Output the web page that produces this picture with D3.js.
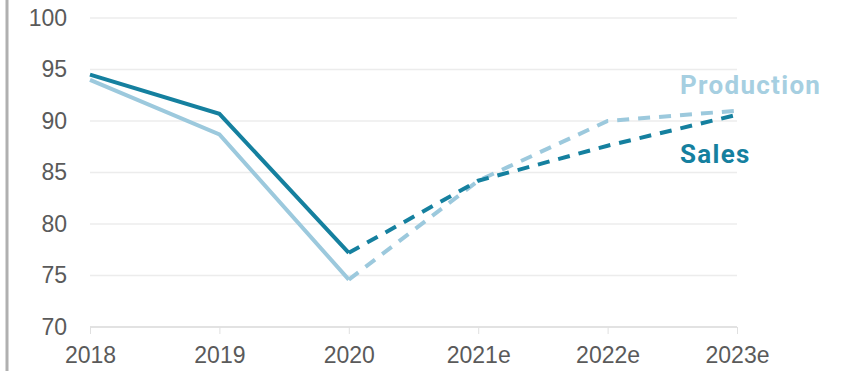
<!DOCTYPE html>
<html>
<head>
<meta charset="utf-8">
<script src="https://cdn.jsdelivr.net/npm/d3@7"></script>
<style>
  body { margin: 0; background: #fff; }
  svg { display: block; font-family: Roboto, "Liberation Sans", sans-serif; }
</style>
</head>
<body>
<div id="chart"></div>
<script>
const years = ["2018", "2019", "2020", "2021e", "2022e", "2023e"];
const sales = [94.5, 90.7, 77.2, 84.2, 87.6, 90.6];
const production = [94.0, 88.7, 74.6, 84.2, 90.0, 91.0];
const yTicks = [70, 75, 80, 85, 90, 95, 100];
const actualCount = 3; // 2018-2020 are actuals, rest are estimates

const width = 841, height = 371;
const margin = { top: 18, right: 104, bottom: 44, left: 90 };

const svg = d3.select("#chart").append("svg")
  .attr("width", width)
  .attr("height", height);

// grey frame line on the left edge
svg.append("line")
  .attr("x1", 7).attr("x2", 7)
  .attr("y1", 0).attr("y2", height)
  .style("stroke", "#b0b0b0")
  .style("stroke-width", 3);

const x = d3.scalePoint()
  .domain(years)
  .range([margin.left, width - margin.right]);

const y = d3.scaleLinear()
  .domain([70, 100])
  .range([height - margin.bottom, margin.top]);

// horizontal gridlines
svg.append("g")
  .selectAll("line")
  .data(yTicks)
  .enter().append("line")
  .attr("x1", margin.left)
  .attr("x2", width - margin.right)
  .attr("y1", d => y(d))
  .attr("y2", d => y(d))
  .style("stroke", d => d === 70 ? "#d8d8d8" : "#ececec")
  .style("stroke-width", 1.5);

// y labels
const yAxis = svg.append("g")
  .attr("transform", `translate(${margin.left - 23},0)`)
  .call(d3.axisLeft(y).tickValues(yTicks).tickSize(0).tickPadding(0));
yAxis.select(".domain").remove();
yAxis.selectAll("text")
  .style("font-size", "23px")
  .style("fill", "#5a5a5a");

// x axis with small ticks
const xAxis = svg.append("g")
  .attr("transform", `translate(0,${y(70)})`)
  .call(d3.axisBottom(x).tickSize(7).tickPadding(13));
xAxis.select(".domain").remove();
xAxis.selectAll("line").style("stroke", "#e0e0e0");
xAxis.selectAll("text")
  .style("font-size", "23px")
  .style("fill", "#5a5a5a");

const line = d3.line()
  .x(d => x(d.year))
  .y(d => y(d.value));

const series = [
  { name: "Production", values: production, color: "#9cc9dd" },
  { name: "Sales", values: sales, color: "#15809f" }
];

series.forEach(s => {
  const pts = years.map((yr, i) => ({ year: yr, value: s.values[i] }));
  svg.append("path")
    .datum(pts.slice(0, actualCount))
    .attr("fill", "none")
    .style("stroke", s.color)
    .style("stroke-width", 4)
    .attr("d", line);
  svg.append("path")
    .datum(pts.slice(actualCount - 1))
    .attr("fill", "none")
    .style("stroke", s.color)
    .style("stroke-width", 4)
    .style("stroke-dasharray", "12,9")
    .attr("d", line);
});

// direct labels
svg.append("text")
  .attr("x", 680).attr("y", 94)
  .style("font-size", "26px")
  .style("font-weight", "bold")
  .style("letter-spacing", "1.3px")
  .style("fill", "#a6cfe1")
  .text("Production");

svg.append("text")
  .attr("x", 680).attr("y", 163)
  .style("font-size", "26px")
  .style("font-weight", "bold")
  .style("letter-spacing", "1.3px")
  .style("fill", "#15809f")
  .text("Sales");
</script>
</body>
</html>
